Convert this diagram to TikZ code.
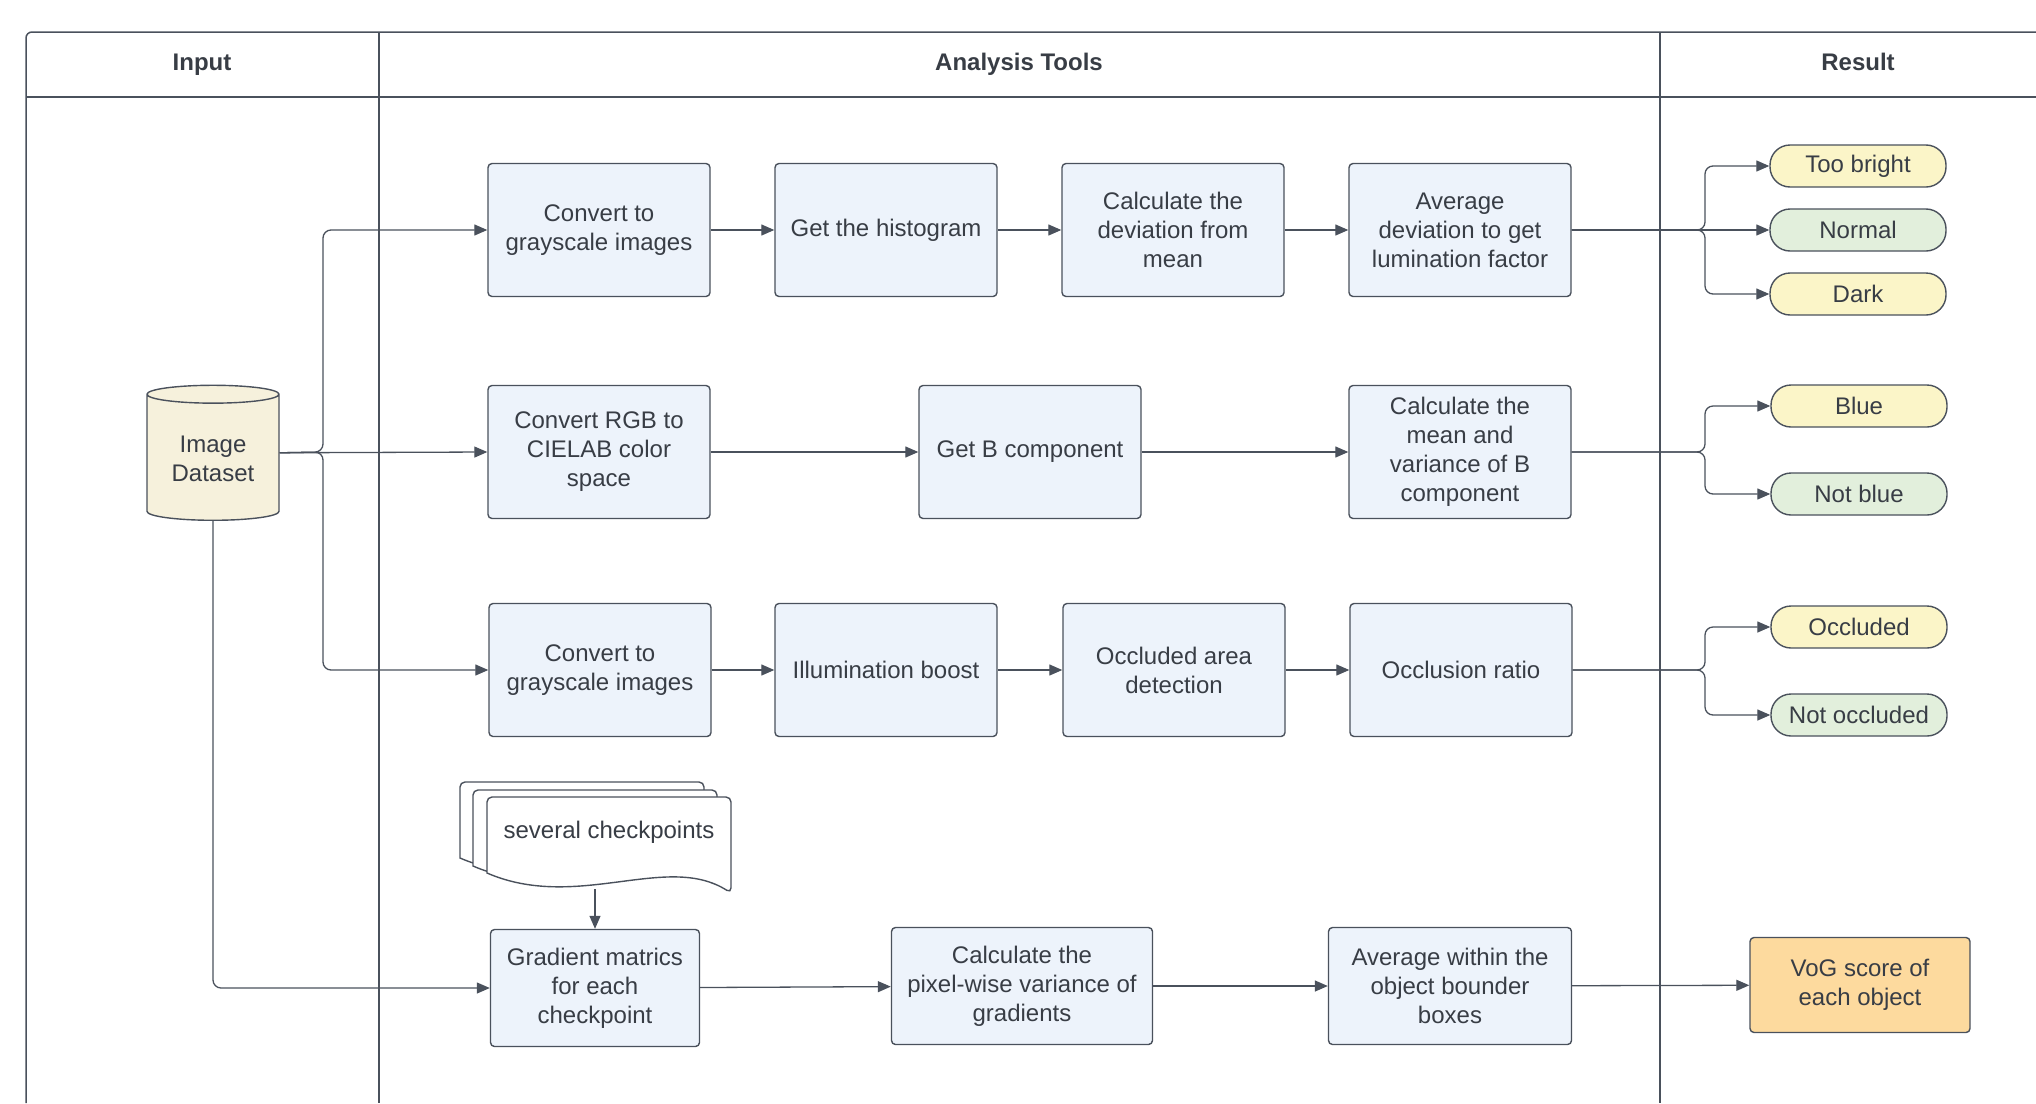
\documentclass[tikz,border=0pt]{standalone}
\usepackage{fontspec}
\setmainfont{Liberation Sans}
\usetikzlibrary{shapes.geometric,arrows.meta}

\definecolor{boxblue}{HTML}{EDF3FB}
\definecolor{pillyel}{HTML}{FBF5C8}
\definecolor{pillgrn}{HTML}{E2EFDC}
\definecolor{vogorg}{HTML}{FDDA9E}
\definecolor{dbcream}{HTML}{F6F1DC}
\definecolor{linegray}{HTML}{4A515C}
\definecolor{txtgray}{HTML}{383D45}

\tikzset{
  proc/.style={rectangle, rounded corners=4pt, draw=linegray, line width=1.4pt, fill=boxblue,
    minimum width=222pt, minimum height=133pt, align=center, text=txtgray, inner sep=2pt},
  pill/.style={rectangle, rounded corners=20pt, draw=linegray, line width=1.4pt,
    minimum width=176pt, minimum height=42pt, text=txtgray, inner sep=0pt},
  flow/.style={draw=linegray, line width=1.3pt, -{Triangle[length=13pt,width=11pt]}},
  lane/.style={draw=linegray, line width=1.5pt},
  head/.style={text=txtgray, text height=17pt, text depth=5pt, font=\bfseries\fontsize{24}{29}\selectfont},
}

\begin{document}
\begin{tikzpicture}[x=1pt,y=-1pt,font=\fontsize{24}{29}\selectfont]
\useasboundingbox (0,0) rectangle (2036,1103);
% swimlanes
\draw[lane,rounded corners=6pt] (26,1103) -- (26,32) -- (2036,32);
\draw[lane] (26,97) -- (2036,97);
\draw[lane] (379,32) -- (379,1103);
\draw[lane] (1660,32) -- (1660,1103);
\node[head] (hin) at (202,64) {Input};
\node[head] (htools) at (1019,64) {Analysis Tools};
\node[head] (hres) at (1858,64) {Result};

% brightness row
\node[proc] (gray1) at (599,230) {Convert to\\grayscale images};
\node[proc] (hist) at (886,230) {Get the histogram};
\node[proc] (dev) at (1173,230) {Calculate the\\deviation from\\mean};
\node[proc] (lum) at (1460,230) {Average\\deviation to get\\lumination factor};
\node[pill,fill=pillyel] (bright) at (1858,166) {Too bright};
\node[pill,fill=pillgrn] (normal) at (1858,230) {Normal};
\node[pill,fill=pillyel] (dark) at (1858,294) {Dark};

% colour row
\node[cylinder,shape border rotate=90,aspect=0.2,draw=linegray,line width=1.4pt,fill=dbcream,
  minimum width=132pt,minimum height=135pt,align=center,text=txtgray] (data) at (213,459) {Image\\Dataset};
\node[proc] (lab) at (599,452) {Convert RGB to\\CIELAB color\\space};
\node[proc] (bcomp) at (1030,452) {Get B component};
\node[proc] (meanb) at (1460,452) {Calculate the\\mean and\\variance of B\\component};
\node[pill,fill=pillyel] (blue) at (1859,406) {Blue};
\node[pill,fill=pillgrn] (notblue) at (1859,494) {Not blue};

% occlusion row
\node[proc] (gray2) at (600,670) {Convert to\\grayscale images};
\node[proc] (boost) at (886,670) {Illumination boost};
\node[proc] (occdet) at (1174,670) {Occluded area\\detection};
\node[proc] (occr) at (1461,670) {Occlusion ratio};
\node[pill,fill=pillyel] (occ) at (1859,627) {Occluded};
\node[pill,fill=pillgrn] (notocc) at (1859,715) {Not occluded};

% VoG row
\foreach \ox/\oy in {460/782, 473/790, 487/797}
  \draw[draw=linegray,line width=1.4pt,fill=white,rounded corners=5pt]
    (\ox,\oy+76) -- (\ox,\oy) -- (\ox+244,\oy) -- (\ox+244,\oy+96) [sharp corners]
    .. controls (\ox+180,\oy+55) and (\ox+90,\oy+115) .. (\ox,\oy+76) -- cycle;
\node[text=txtgray] (ckpt) at (609,832) {several checkpoints};
\coordinate (ckptout) at (595,889);
\node[proc,minimum width=209pt,minimum height=117pt] (grad) at (595,988) {Gradient matrics\\for each\\checkpoint};
\node[proc,minimum width=261pt,minimum height=117pt] (pixvar) at (1022,986) {Calculate the\\pixel-wise variance of\\gradients};
\node[proc,minimum width=243pt,minimum height=117pt] (bbox) at (1450,986) {Average within the\\object bounder\\boxes};
\node[proc,fill=vogorg,minimum width=220pt,minimum height=95pt] (vog) at (1860,985) {VoG score of\\each object};

% connectors
\coordinate (dfork) at (323,452);
\draw[flow,rounded corners=8pt] (data.shape center -| data.east) -- (dfork) |- (gray1.west);
\draw[flow] (data.shape center -| data.east) -- (lab.west);
\draw[flow,rounded corners=8pt] (data.shape center -| data.east) -- (dfork) |- (gray2.west);
\draw[flow,rounded corners=8pt] (data.south) |- (grad.west);

\draw[flow] (gray1) -- (hist);
\draw[flow] (hist) -- (dev);
\draw[flow] (dev) -- (lum);
\coordinate (fork1) at (1705,230);
\draw[flow,rounded corners=8pt] (lum.east) -- (fork1) |- (bright.west);
\draw[flow] (lum) -- (normal);
\draw[flow,rounded corners=8pt] (lum.east) -- (fork1) |- (dark.west);

\draw[flow] (lab) -- (bcomp);
\draw[flow] (bcomp) -- (meanb);
\coordinate (fork2) at (1705,452);
\draw[flow,rounded corners=8pt] (meanb.east) -- (fork2) |- (blue.west);
\draw[flow,rounded corners=8pt] (meanb.east) -- (fork2) |- (notblue.west);

\draw[flow] (gray2) -- (boost);
\draw[flow] (boost) -- (occdet);
\draw[flow] (occdet) -- (occr);
\coordinate (fork3) at (1705,670);
\draw[flow,rounded corners=8pt] (occr.east) -- (fork3) |- (occ.west);
\draw[flow,rounded corners=8pt] (occr.east) -- (fork3) |- (notocc.west);

\draw[flow] (ckptout) -- (grad.north);
\draw[flow] (grad) -- (pixvar);
\draw[flow] (pixvar) -- (bbox);
\draw[flow] (bbox) -- (vog);
\end{tikzpicture}
\end{document}
